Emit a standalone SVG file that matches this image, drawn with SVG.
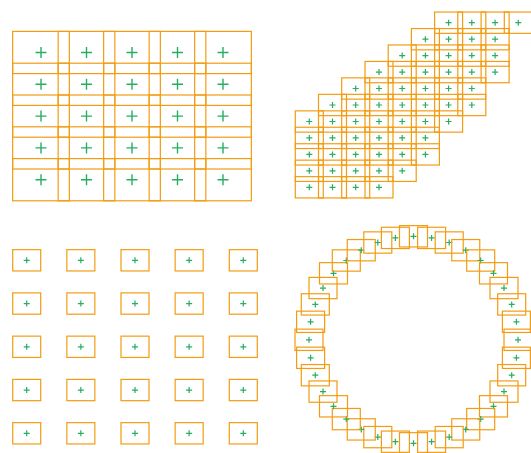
<svg xmlns="http://www.w3.org/2000/svg" xmlns:xlink="http://www.w3.org/1999/xlink" width="531" height="453" viewBox="0 0 531 453">
<style>
.b{fill:none;stroke:#f39c12;stroke-width:1.2}
.c{fill:none;stroke:#27ae60;stroke-width:1.4}
.cs{fill:none;stroke:#27ae60;stroke-width:1.2}
</style>
<defs>
<g id="big"><rect class="b" x="-28.35" y="-21.1" width="56.7" height="42.2"/><path class="c" d="M-5.5 0H5.5M0-5.5V5.5"/></g>
<g id="sm"><rect class="b" x="-14" y="-10.65" width="28" height="21.3"/><path class="cs" d="M-3 0H3M0-3V3"/></g>
</defs>
<rect width="531" height="453" fill="#ffffff"/>
<g id="panel-grid">
<g id="g1-0-0" transform="translate(41,52.5)"><use href="#big"/></g>
<g id="g1-0-1" transform="translate(86.5,52.5)"><use href="#big"/></g>
<g id="g1-0-2" transform="translate(132,52.5)"><use href="#big"/></g>
<g id="g1-0-3" transform="translate(177.5,52.5)"><use href="#big"/></g>
<g id="g1-0-4" transform="translate(223,52.5)"><use href="#big"/></g>
<g id="g1-1-0" transform="translate(41,84.3)"><use href="#big"/></g>
<g id="g1-1-1" transform="translate(86.5,84.3)"><use href="#big"/></g>
<g id="g1-1-2" transform="translate(132,84.3)"><use href="#big"/></g>
<g id="g1-1-3" transform="translate(177.5,84.3)"><use href="#big"/></g>
<g id="g1-1-4" transform="translate(223,84.3)"><use href="#big"/></g>
<g id="g1-2-0" transform="translate(41,116.1)"><use href="#big"/></g>
<g id="g1-2-1" transform="translate(86.5,116.1)"><use href="#big"/></g>
<g id="g1-2-2" transform="translate(132,116.1)"><use href="#big"/></g>
<g id="g1-2-3" transform="translate(177.5,116.1)"><use href="#big"/></g>
<g id="g1-2-4" transform="translate(223,116.1)"><use href="#big"/></g>
<g id="g1-3-0" transform="translate(41,147.9)"><use href="#big"/></g>
<g id="g1-3-1" transform="translate(86.5,147.9)"><use href="#big"/></g>
<g id="g1-3-2" transform="translate(132,147.9)"><use href="#big"/></g>
<g id="g1-3-3" transform="translate(177.5,147.9)"><use href="#big"/></g>
<g id="g1-3-4" transform="translate(223,147.9)"><use href="#big"/></g>
<g id="g1-4-0" transform="translate(41,179.7)"><use href="#big"/></g>
<g id="g1-4-1" transform="translate(86.5,179.7)"><use href="#big"/></g>
<g id="g1-4-2" transform="translate(132,179.7)"><use href="#big"/></g>
<g id="g1-4-3" transform="translate(177.5,179.7)"><use href="#big"/></g>
<g id="g1-4-4" transform="translate(223,179.7)"><use href="#big"/></g>
</g>
<g id="panel-stair">
<g id="g2-0-6" transform="translate(448.6,22.7)"><use href="#sm"/></g>
<g id="g2-0-7" transform="translate(471.8,22.7)"><use href="#sm"/></g>
<g id="g2-0-8" transform="translate(495.1,22.7)"><use href="#sm"/></g>
<g id="g2-0-9" transform="translate(518.3,22.7)"><use href="#sm"/></g>
<g id="g2-1-5" transform="translate(425.4,39.2)"><use href="#sm"/></g>
<g id="g2-1-6" transform="translate(448.6,39.2)"><use href="#sm"/></g>
<g id="g2-1-7" transform="translate(471.8,39.2)"><use href="#sm"/></g>
<g id="g2-1-8" transform="translate(495.1,39.2)"><use href="#sm"/></g>
<g id="g2-2-4" transform="translate(402.2,55.6)"><use href="#sm"/></g>
<g id="g2-2-5" transform="translate(425.4,55.6)"><use href="#sm"/></g>
<g id="g2-2-6" transform="translate(448.6,55.6)"><use href="#sm"/></g>
<g id="g2-2-7" transform="translate(471.8,55.6)"><use href="#sm"/></g>
<g id="g2-2-8" transform="translate(495.1,55.6)"><use href="#sm"/></g>
<g id="g2-3-3" transform="translate(379,72.1)"><use href="#sm"/></g>
<g id="g2-3-4" transform="translate(402.2,72.1)"><use href="#sm"/></g>
<g id="g2-3-5" transform="translate(425.4,72.1)"><use href="#sm"/></g>
<g id="g2-3-6" transform="translate(448.6,72.1)"><use href="#sm"/></g>
<g id="g2-3-7" transform="translate(471.8,72.1)"><use href="#sm"/></g>
<g id="g2-3-8" transform="translate(495.1,72.1)"><use href="#sm"/></g>
<g id="g2-4-2" transform="translate(355.7,88.5)"><use href="#sm"/></g>
<g id="g2-4-3" transform="translate(379,88.5)"><use href="#sm"/></g>
<g id="g2-4-4" transform="translate(402.2,88.5)"><use href="#sm"/></g>
<g id="g2-4-5" transform="translate(425.4,88.5)"><use href="#sm"/></g>
<g id="g2-4-6" transform="translate(448.6,88.5)"><use href="#sm"/></g>
<g id="g2-4-7" transform="translate(471.8,88.5)"><use href="#sm"/></g>
<g id="g2-5-1" transform="translate(332.5,105)"><use href="#sm"/></g>
<g id="g2-5-2" transform="translate(355.7,105)"><use href="#sm"/></g>
<g id="g2-5-3" transform="translate(379,105)"><use href="#sm"/></g>
<g id="g2-5-4" transform="translate(402.2,105)"><use href="#sm"/></g>
<g id="g2-5-5" transform="translate(425.4,105)"><use href="#sm"/></g>
<g id="g2-5-6" transform="translate(448.6,105)"><use href="#sm"/></g>
<g id="g2-5-7" transform="translate(471.8,105)"><use href="#sm"/></g>
<g id="g2-6-0" transform="translate(309.3,121.5)"><use href="#sm"/></g>
<g id="g2-6-1" transform="translate(332.5,121.5)"><use href="#sm"/></g>
<g id="g2-6-2" transform="translate(355.7,121.5)"><use href="#sm"/></g>
<g id="g2-6-3" transform="translate(379,121.5)"><use href="#sm"/></g>
<g id="g2-6-4" transform="translate(402.2,121.5)"><use href="#sm"/></g>
<g id="g2-6-5" transform="translate(425.4,121.5)"><use href="#sm"/></g>
<g id="g2-6-6" transform="translate(448.6,121.5)"><use href="#sm"/></g>
<g id="g2-7-0" transform="translate(309.3,137.9)"><use href="#sm"/></g>
<g id="g2-7-1" transform="translate(332.5,137.9)"><use href="#sm"/></g>
<g id="g2-7-2" transform="translate(355.7,137.9)"><use href="#sm"/></g>
<g id="g2-7-3" transform="translate(379,137.9)"><use href="#sm"/></g>
<g id="g2-7-4" transform="translate(402.2,137.9)"><use href="#sm"/></g>
<g id="g2-7-5" transform="translate(425.4,137.9)"><use href="#sm"/></g>
<g id="g2-8-0" transform="translate(309.3,154.4)"><use href="#sm"/></g>
<g id="g2-8-1" transform="translate(332.5,154.4)"><use href="#sm"/></g>
<g id="g2-8-2" transform="translate(355.7,154.4)"><use href="#sm"/></g>
<g id="g2-8-3" transform="translate(379,154.4)"><use href="#sm"/></g>
<g id="g2-8-4" transform="translate(402.2,154.4)"><use href="#sm"/></g>
<g id="g2-8-5" transform="translate(425.4,154.4)"><use href="#sm"/></g>
<g id="g2-9-0" transform="translate(309.3,170.8)"><use href="#sm"/></g>
<g id="g2-9-1" transform="translate(332.5,170.8)"><use href="#sm"/></g>
<g id="g2-9-2" transform="translate(355.7,170.8)"><use href="#sm"/></g>
<g id="g2-9-3" transform="translate(379,170.8)"><use href="#sm"/></g>
<g id="g2-9-4" transform="translate(402.2,170.8)"><use href="#sm"/></g>
<g id="g2-10-0" transform="translate(309.3,187.3)"><use href="#sm"/></g>
<g id="g2-10-1" transform="translate(332.5,187.3)"><use href="#sm"/></g>
<g id="g2-10-2" transform="translate(355.7,187.3)"><use href="#sm"/></g>
<g id="g2-10-3" transform="translate(379,187.3)"><use href="#sm"/></g>
</g>
<g id="panel-spaced">
<g id="g3-0-0" transform="translate(26.7,260.3)"><use href="#sm"/></g>
<g id="g3-0-1" transform="translate(80.85,260.3)"><use href="#sm"/></g>
<g id="g3-0-2" transform="translate(135,260.3)"><use href="#sm"/></g>
<g id="g3-0-3" transform="translate(189.15,260.3)"><use href="#sm"/></g>
<g id="g3-0-4" transform="translate(243.3,260.3)"><use href="#sm"/></g>
<g id="g3-1-0" transform="translate(26.7,303.55)"><use href="#sm"/></g>
<g id="g3-1-1" transform="translate(80.85,303.55)"><use href="#sm"/></g>
<g id="g3-1-2" transform="translate(135,303.55)"><use href="#sm"/></g>
<g id="g3-1-3" transform="translate(189.15,303.55)"><use href="#sm"/></g>
<g id="g3-1-4" transform="translate(243.3,303.55)"><use href="#sm"/></g>
<g id="g3-2-0" transform="translate(26.7,346.8)"><use href="#sm"/></g>
<g id="g3-2-1" transform="translate(80.85,346.8)"><use href="#sm"/></g>
<g id="g3-2-2" transform="translate(135,346.8)"><use href="#sm"/></g>
<g id="g3-2-3" transform="translate(189.15,346.8)"><use href="#sm"/></g>
<g id="g3-2-4" transform="translate(243.3,346.8)"><use href="#sm"/></g>
<g id="g3-3-0" transform="translate(26.7,390.05)"><use href="#sm"/></g>
<g id="g3-3-1" transform="translate(80.85,390.05)"><use href="#sm"/></g>
<g id="g3-3-2" transform="translate(135,390.05)"><use href="#sm"/></g>
<g id="g3-3-3" transform="translate(189.15,390.05)"><use href="#sm"/></g>
<g id="g3-3-4" transform="translate(243.3,390.05)"><use href="#sm"/></g>
<g id="g3-4-0" transform="translate(26.7,433.3)"><use href="#sm"/></g>
<g id="g3-4-1" transform="translate(80.85,433.3)"><use href="#sm"/></g>
<g id="g3-4-2" transform="translate(135,433.3)"><use href="#sm"/></g>
<g id="g3-4-3" transform="translate(189.15,433.3)"><use href="#sm"/></g>
<g id="g3-4-4" transform="translate(243.3,433.3)"><use href="#sm"/></g>
</g>
<g id="panel-ring">
<g id="g4-0" transform="translate(518,339.8)"><use href="#sm"/></g>
<g id="g4-1" transform="translate(516.4,357.8)"><use href="#sm"/></g>
<g id="g4-2" transform="translate(511.7,375.2)"><use href="#sm"/></g>
<g id="g4-3" transform="translate(504,391.6)"><use href="#sm"/></g>
<g id="g4-4" transform="translate(493.5,406.3)"><use href="#sm"/></g>
<g id="g4-5" transform="translate(480.7,419.1)"><use href="#sm"/></g>
<g id="g4-6" transform="translate(465.75,429.4)"><use href="#sm"/></g>
<g id="g4-7" transform="translate(449.2,437.1)"><use href="#sm"/></g>
<g id="g4-8" transform="translate(431.6,441.7)"><use href="#sm"/></g>
<g id="g4-9" transform="translate(413.5,443.3)"><use href="#sm"/></g>
<g id="g4-10" transform="translate(395.4,441.7)"><use href="#sm"/></g>
<g id="g4-11" transform="translate(377.8,437.1)"><use href="#sm"/></g>
<g id="g4-12" transform="translate(361.25,429.4)"><use href="#sm"/></g>
<g id="g4-13" transform="translate(346.3,419.1)"><use href="#sm"/></g>
<g id="g4-14" transform="translate(333.5,406.3)"><use href="#sm"/></g>
<g id="g4-15" transform="translate(323,391.6)"><use href="#sm"/></g>
<g id="g4-16" transform="translate(315.3,375.2)"><use href="#sm"/></g>
<g id="g4-17" transform="translate(310.6,357.8)"><use href="#sm"/></g>
<g id="g4-18" transform="translate(309,339.8)"><use href="#sm"/></g>
<g id="g4-19" transform="translate(310.6,321.8)"><use href="#sm"/></g>
<g id="g4-20" transform="translate(315.3,304.4)"><use href="#sm"/></g>
<g id="g4-21" transform="translate(323,288.05)"><use href="#sm"/></g>
<g id="g4-22" transform="translate(333.5,273.3)"><use href="#sm"/></g>
<g id="g4-23" transform="translate(346.3,260.5)"><use href="#sm"/></g>
<g id="g4-24" transform="translate(361.25,250.2)"><use href="#sm"/></g>
<g id="g4-25" transform="translate(377.8,242.5)"><use href="#sm"/></g>
<g id="g4-26" transform="translate(395.4,237.9)"><use href="#sm"/></g>
<g id="g4-27" transform="translate(413.5,236.3)"><use href="#sm"/></g>
<g id="g4-28" transform="translate(431.6,237.9)"><use href="#sm"/></g>
<g id="g4-29" transform="translate(449.2,242.5)"><use href="#sm"/></g>
<g id="g4-30" transform="translate(465.75,250.2)"><use href="#sm"/></g>
<g id="g4-31" transform="translate(480.7,260.5)"><use href="#sm"/></g>
<g id="g4-32" transform="translate(493.5,273.3)"><use href="#sm"/></g>
<g id="g4-33" transform="translate(504,288.05)"><use href="#sm"/></g>
<g id="g4-34" transform="translate(511.7,304.4)"><use href="#sm"/></g>
<g id="g4-35" transform="translate(516.4,321.8)"><use href="#sm"/></g>
</g>
</svg>
